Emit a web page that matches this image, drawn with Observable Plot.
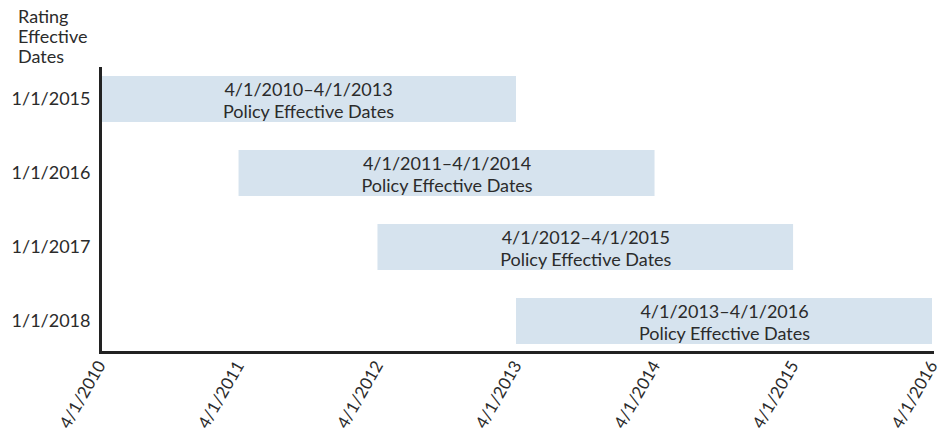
<!DOCTYPE html>
<html>
<head>
<meta charset="utf-8">
<script src="https://cdn.jsdelivr.net/npm/d3@7"></script>
<script src="https://cdn.jsdelivr.net/npm/@observablehq/plot@0.6"></script>
<style>
  body { margin: 0; background: #fff; font-family: Lato, "Open Sans", sans-serif; }
  #title { height: 63px; padding-left: 18px; box-sizing: border-box; padding-top: 6px;
           font-size: 18px; line-height: 20px; color: #2b2b2b; }
</style>
</head>
<body>
<div id="title">Rating<br>Effective<br>Dates</div>
<div id="chart"></div>
<script>
const ratingDates = ["1/1/2015", "1/1/2016", "1/1/2017", "1/1/2018"];
const policyStart = ["4/1/2010", "4/1/2011", "4/1/2012", "4/1/2013"];
const policyEnd = ["4/1/2013", "4/1/2014", "4/1/2015", "4/1/2016"];
const xTickLabels = ["4/1/2010", "4/1/2011", "4/1/2012", "4/1/2013", "4/1/2014", "4/1/2015", "4/1/2016"];
const barLabel = "Policy Effective Dates";

const parse = d3.utcParse("%m/%d/%Y");
const fmt = d3.utcFormat("%-m/%-d/%Y");

const rows = ratingDates.map((r, i) => ({
  rating: r,
  start: parse(policyStart[i]),
  end: parse(policyEnd[i]),
  label: `${policyStart[i]}–${policyEnd[i]}\n${barLabel}`
}));
const xTicks = xTickLabels.map(parse);

const chart = Plot.plot({
  width: 943,
  height: 371,
  marginLeft: 100,
  marginRight: 11,
  marginTop: 5,
  marginBottom: 82,
  style: { fontFamily: "Lato, 'Open Sans', sans-serif", fontSize: "18px", color: "#2b2b2b", overflow: "visible" },
  x: { type: "utc", domain: [xTicks[0], xTicks[xTicks.length - 1]] },
  y: { domain: ratingDates, paddingInner: 0.376, paddingOuter: 0.0816 },
  marks: [
    Plot.barX(rows, { x1: "start", x2: "end", y: "rating", fill: "#d6e3ee" }),
    Plot.text(rows, {
      x: d => new Date((+d.start + +d.end) / 2),
      y: "rating",
      text: "label",
      fill: "#2b2b2b",
      fontSize: 18,
      lineHeight: 1.22
    }),
    Plot.axisY({ tickSize: 0, tickPadding: 10, label: null, fontSize: 18, fill: "#2b2b2b" }),
    Plot.axisX({
      ticks: xTicks, tickFormat: fmt, tickSize: 0, tickPadding: 10, dx: 1,
      tickRotate: -60, label: null, fontSize: 17, fill: "#2b2b2b"
    }),
    Plot.frame({ anchor: "left", stroke: "#222", strokeWidth: 3 }),
    Plot.frame({ anchor: "bottom", stroke: "#222", strokeWidth: 3 })
  ]
});
document.getElementById("chart").appendChild(chart);
</script>
</body>
</html>
